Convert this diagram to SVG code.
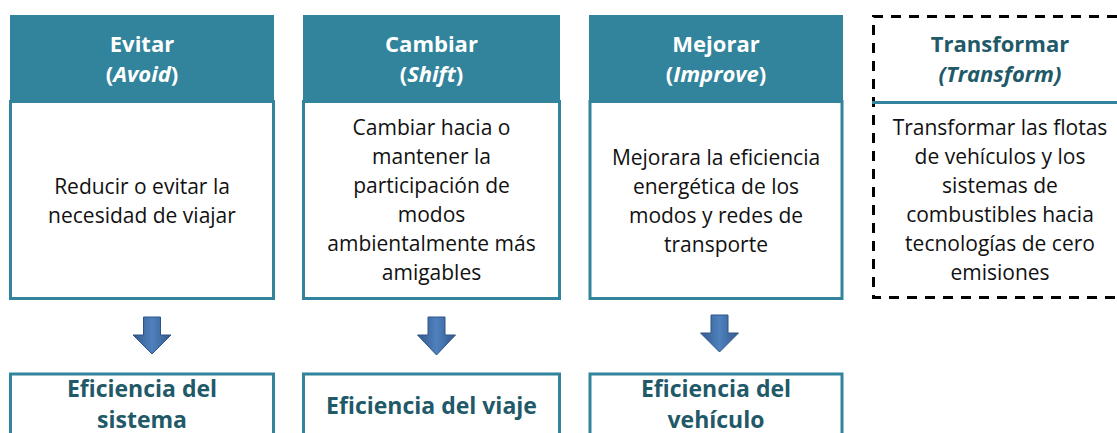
<svg xmlns="http://www.w3.org/2000/svg" width="1117" height="433" viewBox="0 0 1117 433">
  <style>
    .hdr { fill: #31849B; }
    .box { fill: #ffffff; stroke: #31849B; stroke-width: 3; }
    .htxt { font-family: "Open Sans", "Liberation Sans", sans-serif; font-size: 22px; font-weight: bold; fill: #ffffff; text-anchor: middle; }
    .ttxt { font-family: "Open Sans", "Liberation Sans", sans-serif; font-size: 22px; font-weight: bold; fill: #215968; text-anchor: middle; }
    .btxt { font-family: "Open Sans", "Liberation Sans", sans-serif; font-size: 21px; fill: #111111; text-anchor: middle; }
    .etxt { font-family: "Open Sans", "Liberation Sans", sans-serif; font-size: 23px; font-weight: bold; fill: #215968; text-anchor: middle; }
    .it { font-style: italic; }
    .dash { fill: none; stroke: #000000; stroke-width: 3; stroke-dasharray: 10 8; }
    .arrow { fill: url(#ag); stroke: #2F5587; stroke-width: 1; }
  </style>
  <defs>
    <linearGradient id="ag" x1="0" y1="0" x2="1" y2="0">
      <stop offset="0" stop-color="#33598C"/>
      <stop offset="0.5" stop-color="#4F81BD"/>
      <stop offset="1" stop-color="#33598C"/>
    </linearGradient>
  </defs>

  <g id="node-evitar">
    <rect class="hdr" x="10" y="15" width="264" height="87"/>
    <text class="htxt" x="142" y="52">Evitar</text>
    <text class="htxt" x="142" y="82">(<tspan class="it">Avoid</tspan>)</text>
    <rect class="box" x="10.5" y="101.5" width="263" height="197"/>
    <text class="btxt" x="142" y="194">Reducir o evitar la</text>
    <text class="btxt" x="142" y="223">necesidad de viajar</text>
  </g>

  <g id="node-cambiar">
    <rect class="hdr" x="303" y="15" width="257" height="87"/>
    <text class="htxt" x="431.5" y="52">Cambiar</text>
    <text class="htxt" x="431.5" y="82">(<tspan class="it">Shift</tspan>)</text>
    <rect class="box" x="303.5" y="101.5" width="256" height="197"/>
    <text class="btxt" x="431.5" y="135">Cambiar hacia o</text>
    <text class="btxt" x="431.5" y="164">mantener la</text>
    <text class="btxt" x="431.5" y="193">participación de</text>
    <text class="btxt" x="431.5" y="222">modos</text>
    <text class="btxt" x="431.5" y="251">ambientalmente más</text>
    <text class="btxt" x="431.5" y="280">amigables</text>
  </g>

  <g id="node-mejorar">
    <rect class="hdr" x="589" y="15" width="254" height="87"/>
    <text class="htxt" x="716" y="52">Mejorar</text>
    <text class="htxt" x="716" y="82">(<tspan class="it">Improve</tspan>)</text>
    <rect class="box" x="590" y="101.5" width="252" height="197"/>
    <text class="btxt" x="716" y="165">Mejorara la eficiencia</text>
    <text class="btxt" x="716" y="194">energética de los</text>
    <text class="btxt" x="716" y="223">modos y redes de</text>
    <text class="btxt" x="716" y="252">transporte</text>
  </g>

  <g id="node-transformar">
    <path class="dash" d="M1117 16.5 H873.5 V297.5 H1117"/>
    <line x1="872" y1="102.5" x2="1117" y2="102.5" stroke="#31849B" stroke-width="3"/>
    <text class="ttxt" x="1000" y="52">Transformar</text>
    <text class="ttxt it" x="1000" y="82">(Transform)</text>
    <text class="btxt" x="1000" y="135">Transformar las flotas</text>
    <text class="btxt" x="1000" y="164">de vehículos y los</text>
    <text class="btxt" x="1000" y="193">sistemas de</text>
    <text class="btxt" x="1000" y="222">combustibles hacia</text>
    <text class="btxt" x="1000" y="251">tecnologías de cero</text>
    <text class="btxt" x="1000" y="280">emisiones</text>
  </g>

  <g id="node-sistema">
    <rect class="box" x="10.5" y="374" width="263" height="70"/>
    <text class="etxt" x="142" y="397">Eficiencia del</text>
    <text class="etxt" x="142" y="428">sistema</text>
  </g>

  <g id="node-viaje">
    <rect class="box" x="303.5" y="374" width="256" height="70"/>
    <text class="etxt" x="431.5" y="414">Eficiencia del viaje</text>
  </g>

  <g id="node-vehiculo">
    <rect class="box" x="590" y="374" width="252" height="70"/>
    <text class="etxt" x="716" y="397">Eficiencia del</text>
    <text class="etxt" x="716" y="428">vehículo</text>
  </g>

  <g id="connectors">
    <path class="arrow" d="M143.5 317 H160.5 V335 H171 L152 354 L133 335 H143.5 Z"/>
    <path class="arrow" d="M428 317 H445 V335 H455.5 L436.5 355 L417.5 335 H428 Z"/>
    <path class="arrow" d="M711 315 H728 V333 H738.5 L719.5 352 L700.5 333 H711 Z"/>
  </g>
</svg>
